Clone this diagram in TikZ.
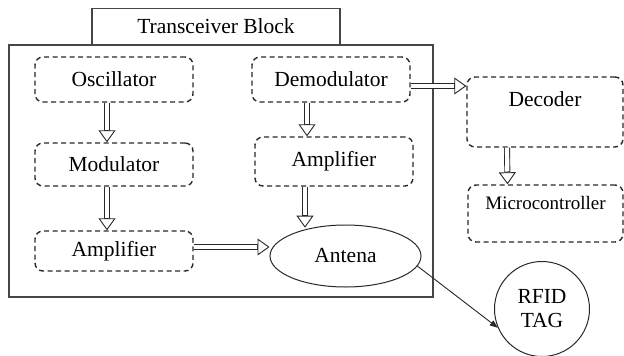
\documentclass[tikz,border=0pt]{standalone}
\usepackage{fontspec}
\setmainfont{Liberation Serif}
\usetikzlibrary{arrows.meta,shapes.geometric}
\definecolor{linegray}{RGB}{40,40,40}
\definecolor{framegray}{RGB}{70,70,70}
\tikzset{
  font=\fontsize{21.5}{24}\selectfont,
  unit/.style={
    draw=linegray,
    line width=1.4pt,
    dash pattern=on 5pt off 3.5pt,
    rounded corners=8pt,
    minimum width=158pt,
    align=center,
    inner sep=0pt
  },
  frame/.style={
    draw=framegray,
    line width=1.1pt,
    inner sep=0pt
  },
  hollow/.style={
    draw=linegray,
    line width=6pt,
    -{Triangle[open,fill=white,line width=0.9pt,length=12pt,width=17pt]},
    postaction={draw=white,line width=4.2pt,-,shorten >=12.8pt}
  },
  link/.style={
    draw=linegray,
    line width=0.9pt,
    -{Triangle[length=8pt,width=6pt]}
  }
}
\begin{document}
\begin{tikzpicture}[x=1pt,y=-1pt]
  \useasboundingbox (0,0) rectangle (624,356);

  \node[frame,minimum width=424pt,minimum height=252pt] at (221,171) (block) {};
  \node[frame,minimum width=248pt,minimum height=36pt] at (216,26.5) (title) {Transceiver Block};

  \node[unit,minimum height=45pt] at (114,79.5) (osc) {Oscillator};
  \node[unit,minimum height=43pt] at (114,164.5) (mod) {Modulator};
  \node[unit,minimum height=40pt] at (114,251) (ampl) {Amplifier};

  \node[unit,minimum height=45pt] at (331,79.5) (demod) {Demodulator};
  \node[unit,minimum height=49pt] at (334,161.5) (ampr) {Amplifier};
  \node[draw=linegray,line width=1pt,ellipse,minimum width=151pt,minimum height=62pt,inner sep=0pt] at (345.5,256) (ant) {Antena};

  \node[unit,minimum width=156pt,minimum height=70pt,text depth=25pt] at (545,112) (dec) {Decoder};
  \node[unit,minimum width=155pt,minimum height=57pt,text depth=21pt,font=\fontsize{19}{22}\selectfont] at (545.5,213.5) (mcu) {Microcontroller};

  \node[draw=linegray,line width=1pt,circle,minimum size=95pt,inner sep=0pt,align=center] at (542,309) (rfid) {RFID\\TAG};

  \draw[hollow] ([xshift=-7pt]osc.south) -- ([xshift=-7pt]mod.north);
  \draw[hollow] ([xshift=-7pt]mod.south) -- ([xshift=-7pt]ampl.north);
  \draw[hollow] ([xshift=-24pt]demod.south) -- ([xshift=-24pt]demod.south |- ampr.north);
  \draw[hollow] ([xshift=-29pt]ampr.south) -- ++(0,41);
  \draw[hollow] ([yshift=4pt]ampl.east) -- ([yshift=4pt]ampl.east -| ant.west);
  \draw[hollow] ([yshift=-6.5pt]demod.east) -- ([yshift=-6.5pt]demod.east -| dec.west);
  \draw[hollow] ([xshift=-38pt]dec.south) -- ([xshift=-38pt]mcu.north);
  \draw[link] (ant.-8) -- (rfid.203);

\end{tikzpicture}
\end{document}
